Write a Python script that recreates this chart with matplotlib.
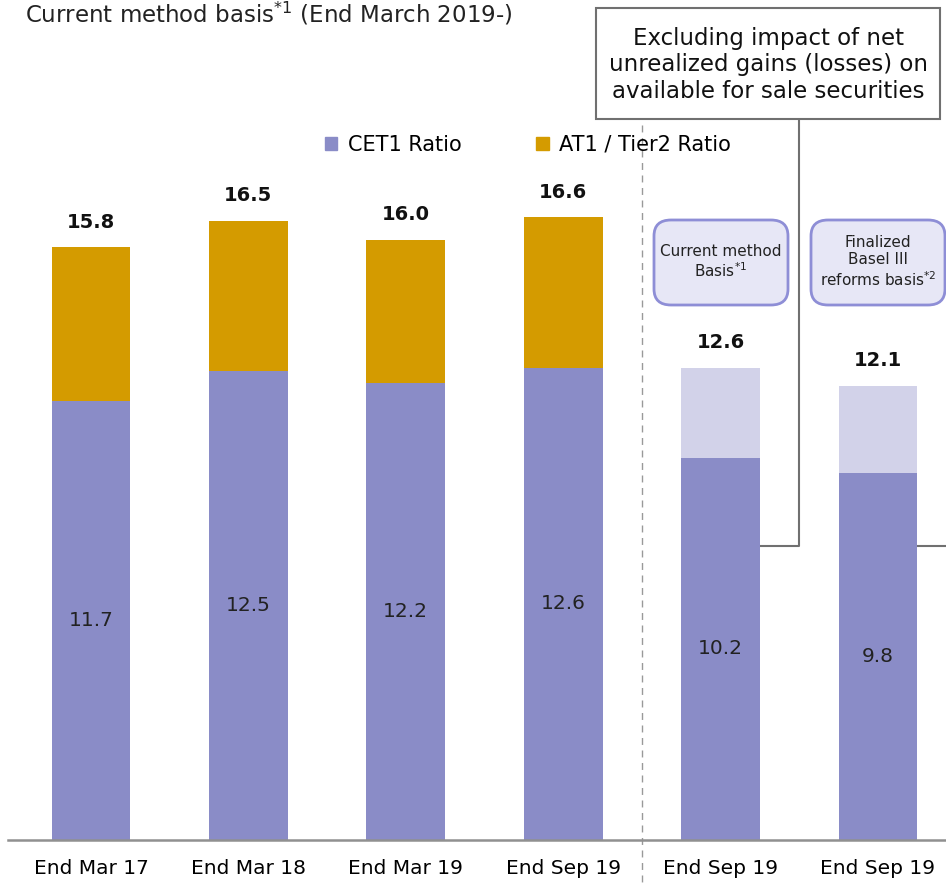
import matplotlib.pyplot as plt
from matplotlib.patches import Patch, FancyBboxPatch, Rectangle

# capital ratios (%)
periods = ['End Mar 17', 'End Mar 18', 'End Mar 19', 'End Sep 19', 'End Sep 19', 'End Sep 19']
cet1 = [11.7, 12.5, 12.2, 12.6, 10.2, 9.8]
totals = [15.8, 16.5, 16.0, 16.6, 12.6, 12.1]
excl_flags = [False, False, False, False, True, True]

c_cet1 = '#8a8cc7'
c_at1 = '#d49b00'
c_light = '#d2d2e9'
c_line = '#707070'

plt.rcParams['font.family'] = 'DejaVu Sans'

fig = plt.figure(figsize=(9.46, 8.83), dpi=100)
ax = fig.add_axes([8 / 946, 43 / 883, 938 / 946, 840 / 883])

x = list(range(len(periods)))
upper = [t - c for t, c in zip(totals, cet1)]
upper_colors = [c_light if f else c_at1 for f in excl_flags]

ax.bar(x, cet1, width=0.5, color=c_cet1, zorder=2)
ax.bar(x, upper, width=0.5, bottom=cet1, color=upper_colors, zorder=2)

for i in x:
    ax.text(i, totals[i] + 0.68, f'{totals[i]:.1f}', ha='center', va='center',
            fontsize=14, fontweight='bold', color='#111111')
    ax.text(i, cet1[i] / 2, f'{cet1[i]:.1f}', ha='center', va='center',
            fontsize=14.5, color='#222222')

ax.set_xlim(-0.527, 5.432)
ax.set_ylim(0, 22.4)
ax.set_xticks(x)
ax.set_xticklabels(periods, fontsize=14.5)
ax.tick_params(axis='x', length=0, pad=14)
ax.set_yticks([])
for s in ['top', 'left', 'right']:
    ax.spines[s].set_visible(False)
ax.spines['bottom'].set_color('#909090')
ax.spines['bottom'].set_linewidth(1.8)

# divider between reported and adjusted bars
ax.plot([3.5, 3.5], [20.4, -1.2], ls=(0, (5, 4)), color='#999999', lw=1,
        clip_on=False, zorder=1)

# callout box with connectors to the adjusted bars
fig.add_artist(Rectangle((596 / 946, 1 - 119 / 883), 344 / 946, 111 / 883,
                         transform=fig.transFigure, fill=True, facecolor='white',
                         edgecolor=c_line, lw=1.5))
fig.text(768 / 946, 1 - 65 / 883,
         'Excluding impact of net\nunrealized gains (losses) on\navailable for sale securities',
         ha='center', va='center', fontsize=16.5, linespacing=1.22, color='#111111')
cy = (840 - 546) / 37.5
ax.plot([4.25, 4.5, 4.5], [cy, cy, (840 - 119) / 37.5], color=c_line, lw=1.5,
        clip_on=False, zorder=1)
ax.plot([5.25, 5.6], [cy, cy], color=c_line, lw=1.5, clip_on=False, zorder=1)
ax.plot([5.51, 5.6], [(840 - 62) / 37.5, (840 - 62) / 37.5], color=c_line, lw=1.5,
        clip_on=False, zorder=1)

# method tags above the adjusted bars
for x0, label in [(654, 'Current method\nBasis$^{*1}$'),
                  (811, 'Finalized\nBasel III\nreforms basis$^{*2}$')]:
    fig.add_artist(FancyBboxPatch((x0 / 946, 1 - 305 / 883), 134 / 946, 85 / 883,
                                  boxstyle='round,pad=0,rounding_size=0.018',
                                  transform=fig.transFigure, facecolor='#e7e7f6',
                                  edgecolor='#8e8ed6', lw=2))
    fig.text((x0 + 67) / 946, 1 - 262 / 883, label, ha='center', va='center',
             fontsize=11, linespacing=1.2, color='#222222')

fig.text(25 / 946, 1.0, 'Current method basis$^{*1}$ (End March 2019-)',
         ha='left', va='top', fontsize=16.5, color='#222222')

handles = [Patch(color=c_cet1, label='CET1 Ratio'),
           Patch(color=c_at1, label='AT1 / Tier2 Ratio')]
fig.legend(handles=handles, ncol=2, frameon=False, loc='center',
           bbox_to_anchor=(528 / 946, 1 - 145 / 883), fontsize=15,
           handlelength=0.6, handleheight=0.6, handletextpad=0.5, columnspacing=3.6)

fig.savefig('out.png', dpi=100)
